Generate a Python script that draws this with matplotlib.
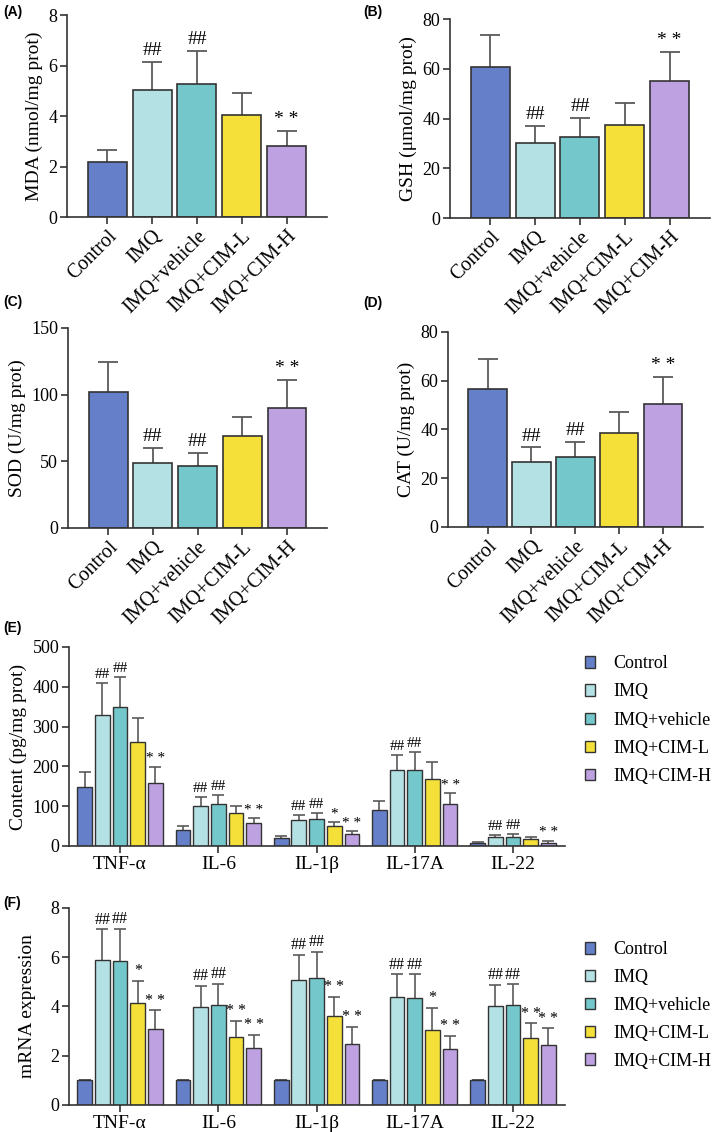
import matplotlib
matplotlib.use('Agg')
import matplotlib.pyplot as plt
from matplotlib.patches import Patch
import numpy as np

matplotlib.rcParams['font.family'] = ['Liberation Serif', 'DejaVu Serif']

groups = ['Control', 'IMQ', 'IMQ+vehicle', 'IMQ+CIM-L', 'IMQ+CIM-H']
colors = ['#6580C8', '#B4E1E4', '#74C7CA', '#F5E03A', '#BEA1E1']

# (A) MDA
mda_mean = [2.18, 5.03, 5.28, 4.06, 2.80]
mda_sd = [0.47, 1.12, 1.30, 0.87, 0.62]
mda_sig = ['', '##', '##', '', '**']
# (B) GSH
gsh_mean = [60.6, 30.0, 32.4, 37.3, 55.1]
gsh_sd = [13.0, 7.1, 7.7, 8.9, 11.7]
gsh_sig = ['', '##', '##', '', '**']
# (C) SOD
sod_mean = [102.3, 48.5, 46.3, 68.8, 90.0]
sod_sd = [22.2, 11.3, 10.0, 14.2, 21.0]
sod_sig = ['', '##', '##', '', '**']
# (D) CAT
cat_mean = [56.4, 26.6, 28.6, 38.7, 50.3]
cat_sd = [12.3, 6.0, 6.4, 8.6, 11.1]
cat_sig = ['', '##', '##', '', '**']

cytokines = ['TNF-α', 'IL-6', 'IL-1β', 'IL-17A', 'IL-22']

# (E) protein content, one list per group
prot_control = [149, 41, 20, 90, 8]
prot_imq = [330, 100, 65, 190, 22]
prot_vehicle = [348, 106, 67, 190, 23]
prot_ciml = [260, 83, 49, 168, 18]
prot_cimh = [159, 57, 29, 106, 8]
prot_control_sd = [37, 10, 5, 24, 2]
prot_imq_sd = [80, 24, 14, 39, 6]
prot_vehicle_sd = [77, 23, 17, 47, 8]
prot_ciml_sd = [62, 18, 12, 42, 5]
prot_cimh_sd = [40, 13, 8, 26, 5]
prot_sig = [['', '', '', '', ''],
            ['##', '##', '##', '##', '##'],
            ['##', '##', '##', '##', '##'],
            ['', '', '*', '', ''],
            ['**', '**', '**', '**', '**']]

# (F) mRNA expression
mrna_control = [1, 1, 1, 1, 1]
mrna_imq = [5.88, 3.99, 5.09, 4.39, 4.01]
mrna_vehicle = [5.85, 4.04, 5.14, 4.35, 4.04]
mrna_ciml = [4.16, 2.77, 3.61, 3.05, 2.70]
mrna_cimh = [3.08, 2.31, 2.47, 2.26, 2.42]
mrna_control_sd = [0, 0, 0, 0, 0]
mrna_imq_sd = [1.26, 0.86, 1.02, 0.92, 0.88]
mrna_vehicle_sd = [1.31, 0.89, 1.08, 0.96, 0.87]
mrna_ciml_sd = [0.89, 0.65, 0.78, 0.90, 0.62]
mrna_cimh_sd = [0.77, 0.55, 0.71, 0.55, 0.69]
mrna_sig = [['', '', '', '', ''],
            ['##', '##', '##', '##', '##'],
            ['##', '##', '##', '##', '##'],
            ['*', '**', '**', '*', '**'],
            ['**', '**', '**', '**', '**']]

ec = '#333333'
errc = '#5a5a5a'


def style_axes(ax, tick_size):
    ax.spines['top'].set_visible(False)
    ax.spines['right'].set_visible(False)
    for s in ['left', 'bottom']:
        ax.spines[s].set_linewidth(1.2)
        ax.spines[s].set_color(ec)
    ax.tick_params(direction='out', length=5, width=1.2, color=ec, labelsize=tick_size, pad=2)


def sig_text(t):
    # the stars are printed with a gap between them
    return t.replace('**', '* *')


def simple_panel(ax, mean, sd, sig, ymax, step, ylabel):
    x = np.arange(len(groups))
    ax.errorbar(x, mean, yerr=sd, fmt='none', ecolor=errc, elinewidth=1.3,
                capsize=7.5, capthick=1.3, zorder=1)
    ax.bar(x, mean, width=0.87, color=colors, edgecolor=ec, linewidth=1.2, zorder=2)
    for xi, m, s, t in zip(x, mean, sd, sig):
        if t:
            ax.annotate(sig_text(t), (xi, m + s), xytext=(0, 2), textcoords='offset points',
                        ha='center', va='bottom', fontsize=14)
    ax.set_xlim(-0.9, 4.9)
    ax.set_ylim(0, ymax)
    ax.set_yticks(np.arange(0, ymax + 0.01, step))
    ax.set_xticks(x)
    ax.set_xticklabels(groups, rotation=45, ha='right', va='top', rotation_mode='anchor')
    ax.set_ylabel(ylabel, fontsize=14, labelpad=4)
    style_axes(ax, 13)
    ax.tick_params(axis='x', labelsize=14.5)


def group_panel(ax, means, sds, sigs, ymax, step, ylabel, fs_sig):
    x = np.arange(len(cytokines))
    step_w = 0.18
    for j in range(len(groups)):
        xs = x + (j - 2) * step_w
        ax.errorbar(xs, means[j], yerr=sds[j], fmt='none', ecolor=errc, elinewidth=1.2,
                    capsize=4.5, capthick=1.2, zorder=1)
        ax.bar(xs, means[j], width=0.15, color=colors[j], edgecolor=ec, linewidth=1.0, zorder=2)
        for xi, m, s, t in zip(xs, means[j], sds[j], sigs[j]):
            if t:
                ax.annotate(sig_text(t), (xi, m + s), xytext=(0, 1), textcoords='offset points',
                            ha='center', va='bottom', fontsize=fs_sig)
    ax.set_xlim(-0.52, 4.53)
    ax.set_ylim(0, ymax)
    ax.set_yticks(np.arange(0, ymax + 0.01, step))
    ax.set_xticks(x)
    ax.set_xticklabels(cytokines)
    ax.set_ylabel(ylabel, fontsize=14, labelpad=4)
    style_axes(ax, 13)
    ax.tick_params(axis='x', labelsize=14)


fig = plt.figure(figsize=(7.2, 11.32), dpi=100)

axA = fig.add_axes([0.093, 0.8083, 0.361, 0.1784])
axB = fig.add_axes([0.625, 0.8074, 0.361, 0.1758])
axC = fig.add_axes([0.0944, 0.5336, 0.360, 0.1767])
axD = fig.add_axes([0.6222, 0.5345, 0.354, 0.1723])
axE = fig.add_axes([0.0958, 0.2527, 0.689, 0.1758])
axF = fig.add_axes([0.0958, 0.0239, 0.689, 0.1740])

simple_panel(axA, mda_mean, mda_sd, mda_sig, 8, 2, 'MDA (nmol/mg prot)')
simple_panel(axB, gsh_mean, gsh_sd, gsh_sig, 80, 20, 'GSH (μmol/mg prot)')
simple_panel(axC, sod_mean, sod_sd, sod_sig, 150, 50, 'SOD (U/mg prot)')
simple_panel(axD, cat_mean, cat_sd, cat_sig, 80, 20, 'CAT (U/mg prot)')

group_panel(axE,
            [prot_control, prot_imq, prot_vehicle, prot_ciml, prot_cimh],
            [prot_control_sd, prot_imq_sd, prot_vehicle_sd, prot_ciml_sd, prot_cimh_sd],
            prot_sig, 500, 100, 'Content (pg/mg prot)', 11)
group_panel(axF,
            [mrna_control, mrna_imq, mrna_vehicle, mrna_ciml, mrna_cimh],
            [mrna_control_sd, mrna_imq_sd, mrna_vehicle_sd, mrna_ciml_sd, mrna_cimh_sd],
            mrna_sig, 8, 2, 'mRNA expression', 11.5)
axF.set_ylabel('mRNA expression', fontsize=14, labelpad=10)

handles = [Patch(facecolor=c, edgecolor=ec, linewidth=1.0) for c in colors]
for ax, ytop, sp in [(axE, 1 - 648 / 1132, 0.62), (axF, 1 - 934 / 1132, 0.6)]:
    fig.legend(handles, groups, loc='upper left', bbox_to_anchor=(0.802, ytop),
               frameon=False, fontsize=13, handlelength=0.6, handleheight=0.6,
               handletextpad=1.0, labelspacing=sp, borderaxespad=0)

for lbl, x, y in [('(A)', 3, 12), ('(B)', 363, 12), ('(C)', 3, 302),
                  ('(D)', 363, 303), ('(E)', 3, 628), ('(F)', 3, 903)]:
    fig.text(x / 720, 1 - y / 1132, lbl, fontsize=10, fontweight='bold',
             family='Liberation Sans', ha='left', va='center')

fig.savefig('out.png', dpi=100)
